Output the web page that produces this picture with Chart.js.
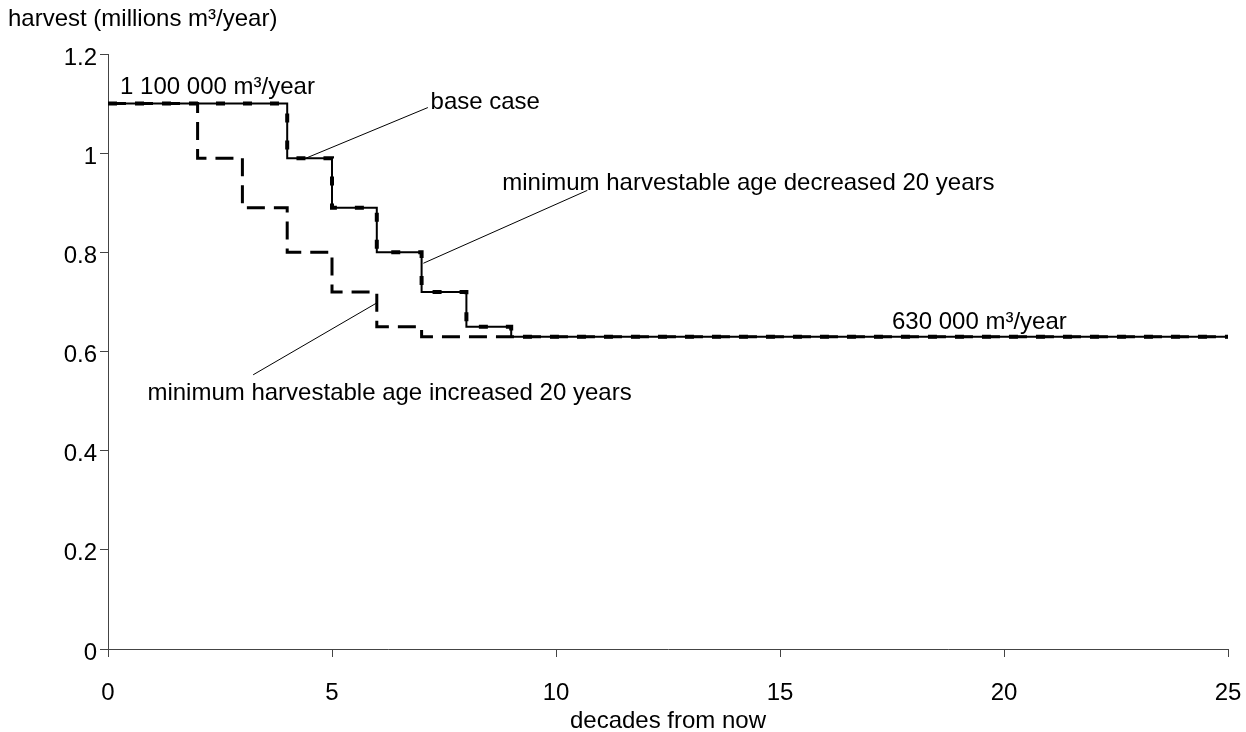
<!DOCTYPE html>
<html lang="en">
<head>
  <meta charset="UTF-8" />
  <title>Harvest forecast</title>
  <script src="https://cdn.jsdelivr.net/npm/chart.js"></script>
  <style>
    html, body { margin: 0; padding: 0; background: #fff; }
    #wrap { width: 1246px; height: 732px; position: relative; }
  </style>
</head>
<body>
  <div id="wrap"><canvas id="harvestChart"></canvas></div>
  <script>
    // decades from now (x) and harvest in millions m3/year
    const decades = [0, 1, 2, 3, 4, 5, 6, 7, 8, 9, 10, 11, 12, 13, 14, 15, 16, 17, 18, 19, 20, 21, 22, 23, 24, 25];
    const baseCase = [1.1, 1.1, 1.1, 1.1, 0.99, 0.89, 0.80, 0.72, 0.65, 0.63, 0.63, 0.63, 0.63, 0.63, 0.63, 0.63, 0.63, 0.63, 0.63, 0.63, 0.63, 0.63, 0.63, 0.63, 0.63, 0.63];
    const ageDecreased = [1.1, 1.1, 1.1, 1.1, 0.99, 0.89, 0.80, 0.72, 0.65, 0.63, 0.63, 0.63, 0.63, 0.63, 0.63, 0.63, 0.63, 0.63, 0.63, 0.63, 0.63, 0.63, 0.63, 0.63, 0.63, 0.63];
    const ageIncreased = [1.1, 1.1, 0.99, 0.89, 0.80, 0.72, 0.65, 0.63, 0.63, 0.63, 0.63, 0.63, 0.63, 0.63, 0.63, 0.63, 0.63, 0.63, 0.63, 0.63, 0.63, 0.63, 0.63, 0.63, 0.63, 0.63];

    const xTickValues = [0, 5, 10, 15, 20, 25];
    const yTickValues = [0, 0.2, 0.4, 0.6, 0.8, 1, 1.2];
    const yTickLabels = ["0", "0.2", "0.4", "0.6", "0.8", "1", "1.2"];

    // callouts: text anchor and leader line, in data units
    const notes = [
      { text: "1 100 000 m³/year", x: 0.27, y: 1.132, line: null },
      { text: "base case", x: 7.2, y: 1.103, line: [4.42, 0.99, 7.14, 1.092] },
      { text: "minimum harvestable age decreased 20 years", x: 8.8, y: 0.94, line: [7.04, 0.778, 10.7, 0.925] },
      { text: "minimum harvestable age increased 20 years", x: 0.88, y: 0.516, line: [6.0, 0.698, 3.24, 0.553] },
      { text: "630 000 m³/year", x: 17.5, y: 0.658, line: null }
    ];

    const FONT = "'Liberation Sans', Arial, sans-serif";
    const AXIS = "#444";

    const toPoints = vals => vals.map((v, i) => ({ x: decades[i], y: v }));

    const calloutPlugin = {
      id: "callouts",
      afterDraw(chart) {
        const { ctx, scales: { x, y } } = chart;
        ctx.save();
        ctx.fillStyle = "#000";
        ctx.strokeStyle = "#000";
        ctx.lineWidth = 1;
        ctx.font = "24px " + FONT;
        ctx.textBaseline = "middle";
        ctx.textAlign = "left";
        notes.forEach(n => {
          if (n.line) {
            ctx.beginPath();
            ctx.moveTo(x.getPixelForValue(n.line[0]), y.getPixelForValue(n.line[1]));
            ctx.lineTo(x.getPixelForValue(n.line[2]), y.getPixelForValue(n.line[3]));
            ctx.stroke();
          }
          ctx.fillText(n.text, x.getPixelForValue(n.x), y.getPixelForValue(n.y));
        });
        // y axis title sits above the axis
        ctx.fillText("harvest (millions m³/year)", 8, 19);
        ctx.restore();
      }
    };

    new Chart(document.getElementById("harvestChart"), {
      type: "line",
      data: {
        datasets: [
          {
            label: "minimum harvestable age decreased 20 years",
            data: toPoints(ageDecreased),
            borderColor: "#000",
            borderWidth: 4,
            borderDash: [9, 18],
            borderCapStyle: "butt"
          },
          {
            label: "base case",
            data: toPoints(baseCase),
            borderColor: "#000",
            borderWidth: 2
          },
          {
            label: "minimum harvestable age increased 20 years",
            data: toPoints(ageIncreased),
            borderColor: "#000",
            borderWidth: 3,
            borderDash: [18, 9],
            borderCapStyle: "butt"
          }
        ]
      },
      options: {
        responsive: true,
        maintainAspectRatio: false,
        animation: false,
        layout: { padding: { top: 54, right: 18, left: 0, bottom: 0 } },
        elements: {
          point: { radius: 0 },
          line: { stepped: "before", tension: 0, fill: false }
        },
        plugins: {
          legend: { display: false },
          tooltip: { enabled: false }
        },
        scales: {
          x: {
            type: "linear",
            min: 0,
            max: 25,
            afterBuildTicks: s => { s.ticks = xTickValues.map(v => ({ value: v })); },
            afterFit: s => { s.height = 83; s.paddingLeft = 0; s.paddingRight = 0; },
            grid: { drawOnChartArea: false, tickLength: 8, color: AXIS },
            border: { color: AXIS, width: 1 },
            ticks: { color: "#000", font: { family: FONT, size: 24 }, padding: 22, maxRotation: 0 },
            title: {
              display: true,
              text: "decades from now",
              color: "#000",
              font: { family: FONT, size: 24, lineHeight: 1 },
              padding: { top: 0, bottom: -1 }
            }
          },
          y: {
            min: 0,
            max: 1.2,
            afterBuildTicks: s => { s.ticks = yTickValues.map(v => ({ value: v })); },
            afterFit: s => { s.width = 108; s.paddingTop = 0; s.paddingBottom = 0; },
            grid: { drawOnChartArea: false, tickLength: 8, color: AXIS },
            border: { color: AXIS, width: 1 },
            ticks: {
              color: "#000",
              font: { family: FONT, size: 24 },
              padding: 3,
              labelOffset: 4,
              callback: (v, i) => yTickLabels[i]
            }
          }
        }
      },
      plugins: [calloutPlugin]
    });
  </script>
</body>
</html>
